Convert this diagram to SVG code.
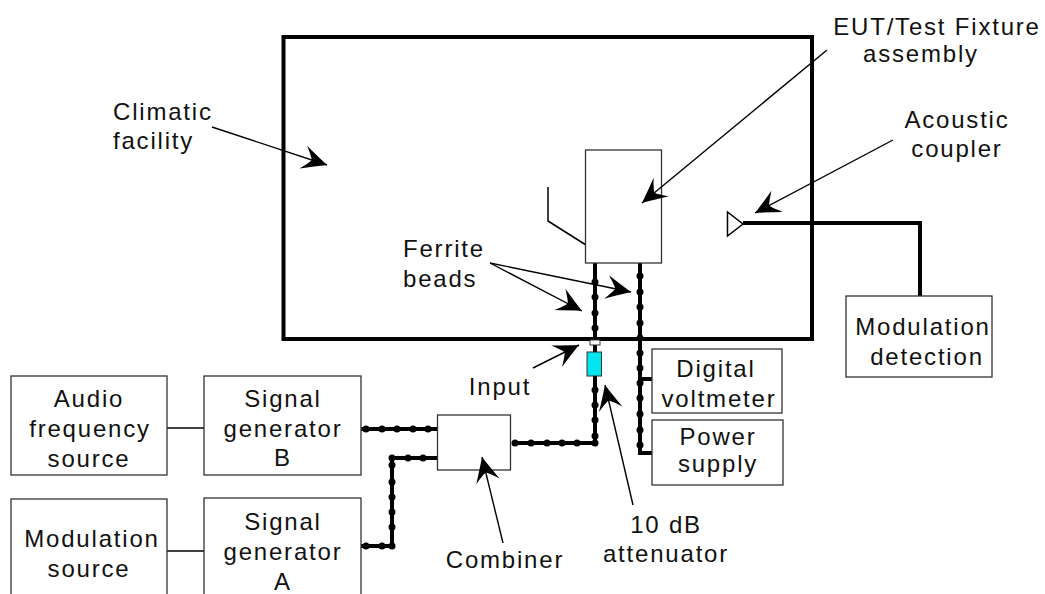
<svg xmlns="http://www.w3.org/2000/svg" width="1045" height="594" viewBox="0 0 1045 594">
<style>
.t{font-family:"Liberation Sans",Arial,sans-serif;font-size:24px;letter-spacing:1.8px;fill:#111}
.m{text-anchor:middle}
.box{fill:#fff;stroke:#333;stroke-width:1.3}
.cab{fill:none;stroke:#000;stroke-width:4;stroke-linejoin:miter}
.thin{fill:none;stroke:#000;stroke-width:1.5}
.ptr{fill:none;stroke:#000;stroke-width:1.4;marker-end:url(#ah)}
.d{fill:#000}
</style>
<defs>
<marker id="ah" markerUnits="userSpaceOnUse" orient="auto" markerWidth="30" markerHeight="30" viewBox="-28 -15 30 30" refX="0" refY="0">
<path d="M0,0 Q-11,-5 -25,-12 Q-18,-4 -16,0 Q-18,4 -25,12 Q-11,5 0,0 Z" fill="#000"/>
</marker>
</defs>
<g id="climatic-facility">
<rect x="283.5" y="37" width="528.5" height="302" fill="none" stroke="#000" stroke-width="4"/>
</g>
<g id="connectors">
<path class="cab" d="M595,263 V443 H512"/>
<path class="cab" d="M640,263 V453 H652 M640,379 H652"/>
<path class="cab" d="M361,429 H437"/>
<path class="cab" d="M361,546 H392 V458 H437"/>
<path class="cab" d="M743,223 H920 V296"/>
<path class="thin" d="M167,428 H204 M167,551 H204"/>
<path class="thin" d="M548,187 V221 L586,245"/>
<g class="d">
<circle cx="595" cy="282" r="3.5"/><circle cx="595" cy="297" r="3.5"/><circle cx="595" cy="313" r="3.5"/><circle cx="595" cy="328" r="3.5"/>
<circle cx="595" cy="390" r="3.5"/><circle cx="595" cy="405" r="3.5"/><circle cx="595" cy="420" r="3.5"/><circle cx="595" cy="436" r="3.5"/><circle cx="595" cy="443" r="3.5"/>
<circle cx="577" cy="443" r="3.5"/><circle cx="562" cy="443" r="3.5"/><circle cx="547" cy="443" r="3.5"/><circle cx="531" cy="443" r="3.5"/><circle cx="515" cy="443" r="3.5"/>
<circle cx="640" cy="276" r="3.5"/><circle cx="640" cy="292" r="3.5"/><circle cx="640" cy="307" r="3.5"/><circle cx="640" cy="323" r="3.5"/><circle cx="640" cy="338" r="3.5"/><circle cx="640" cy="353" r="3.5"/><circle cx="640" cy="368" r="3.5"/><circle cx="640" cy="383" r="3.5"/><circle cx="640" cy="398" r="3.5"/><circle cx="640" cy="414" r="3.5"/><circle cx="640" cy="430" r="3.5"/><circle cx="640" cy="445" r="3.5"/>
<circle cx="366" cy="429" r="3.5"/><circle cx="382" cy="429" r="3.5"/><circle cx="397" cy="429" r="3.5"/><circle cx="413" cy="429" r="3.5"/><circle cx="428" cy="429" r="3.5"/>
<circle cx="366" cy="546" r="3.5"/><circle cx="382" cy="546" r="3.5"/><circle cx="392" cy="546" r="3.5"/><circle cx="392" cy="527" r="3.5"/><circle cx="392" cy="512" r="3.5"/><circle cx="392" cy="497" r="3.5"/><circle cx="392" cy="482" r="3.5"/><circle cx="392" cy="465" r="3.5"/><circle cx="392" cy="458" r="3.5"/><circle cx="408" cy="458" r="3.5"/><circle cx="423" cy="458" r="3.5"/>
</g>
<rect x="590" y="340" width="10" height="5" fill="#fff" stroke="#333" stroke-width="1"/>
<rect x="587" y="352" width="14.5" height="24" fill="#00e5ee" stroke="#333" stroke-width="1"/>
<polygon points="727.5,212 727.5,236 743,224" fill="#fff" stroke="#000" stroke-width="1.5"/>
</g>
<g id="eut">
<rect class="box" x="585.5" y="150" width="76" height="113"/>
</g>
<g id="audio-source">
<rect class="box" x="11" y="376" width="156" height="99"/>
<text class="t m" x="89" y="407">Audio</text>
<text class="t m" x="90" y="437">frequency</text>
<text class="t m" x="89" y="467">source</text>
</g>
<g id="sig-gen-b">
<rect class="box" x="204" y="376" width="157" height="99"/>
<text class="t m" x="283" y="407">Signal</text>
<text class="t m" x="283" y="437">generator</text>
<text class="t m" x="283" y="466">B</text>
</g>
<g id="modulation-source">
<rect class="box" x="11" y="499" width="156" height="110"/>
<text class="t m" x="92" y="547">Modulation</text>
<text class="t m" x="89" y="577">source</text>
</g>
<g id="sig-gen-a">
<rect class="box" x="204" y="498" width="157" height="110"/>
<text class="t m" x="283" y="530">Signal</text>
<text class="t m" x="283" y="560">generator</text>
<text class="t m" x="283" y="590">A</text>
</g>
<g id="combiner">
<rect class="box" x="437.5" y="415" width="73" height="55"/>
</g>
<g id="digital-voltmeter">
<rect class="box" x="652" y="349" width="130" height="64"/>
<text class="t m" x="716" y="377">Digital</text>
<text class="t m" x="719" y="407">voltmeter</text>
</g>
<g id="power-supply">
<rect class="box" x="652" y="420" width="131" height="65"/>
<text class="t m" x="718" y="445">Power</text>
<text class="t m" x="718" y="472">supply</text>
</g>
<g id="modulation-detection">
<rect class="box" x="846" y="296" width="146" height="81"/>
<text class="t m" x="923" y="335">Modulation</text>
<text class="t m" x="927" y="365">detection</text>
</g>
<g id="pointers">
<path class="ptr" d="M212,127 L327,165"/>
<path class="ptr" d="M827,50 L642,203"/>
<path class="ptr" d="M893,140 L755,213"/>
<path class="ptr" d="M490,263 L582,311"/>
<path class="ptr" d="M490,263 L631,292"/>
<path class="ptr" d="M533,368 L579,345"/>
<path class="ptr" d="M633,505 L605,385"/>
<path class="ptr" d="M503,543 L482,457"/>
</g>
<g id="labels">
<text class="t" x="113" y="120">Climatic</text>
<text class="t" x="113" y="149">facility</text>
<text class="t m" x="937" y="35">EUT/Test Fixture</text>
<text class="t m" x="921" y="62">assembly</text>
<text class="t m" x="957" y="128">Acoustic</text>
<text class="t m" x="957" y="157">coupler</text>
<text class="t" x="403" y="257">Ferrite</text>
<text class="t" x="403" y="287">beads</text>
<text class="t m" x="500" y="395">Input</text>
<text class="t m" x="505" y="568">Combiner</text>
<text class="t m" x="666" y="533">10 dB</text>
<text class="t m" x="666" y="562">attenuator</text>
</g>
</svg>
